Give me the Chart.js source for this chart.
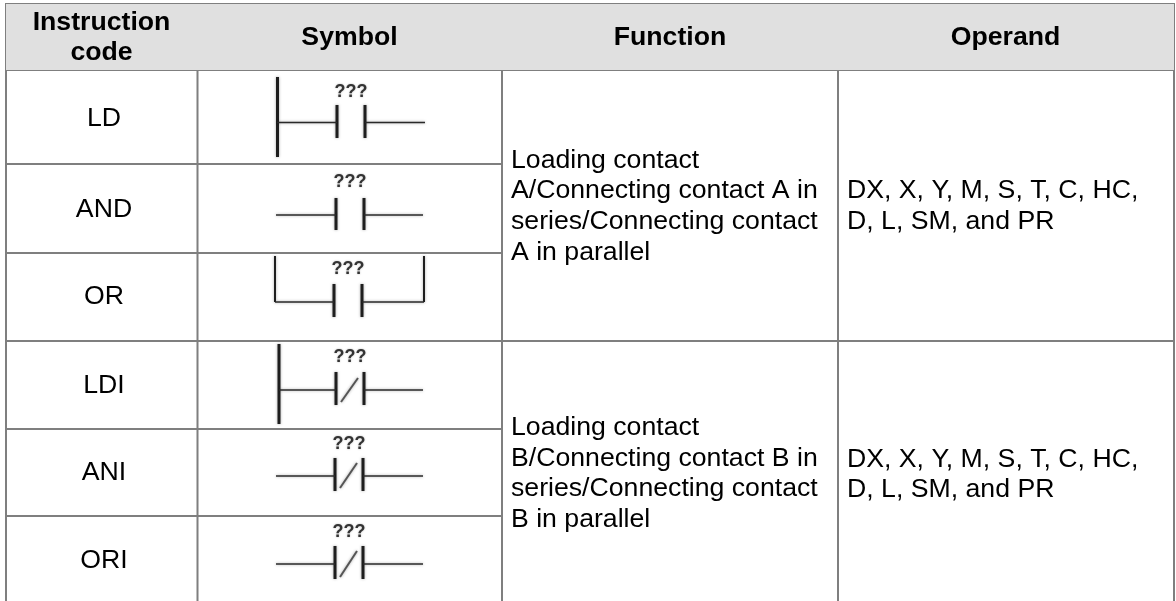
<!DOCTYPE html>
<html>
<head>
<meta charset="utf-8">
<style>html,body{margin:0;padding:0;background:#fff}canvas{display:block}</style>
<script src="https://cdn.jsdelivr.net/npm/chart.js@4"></script>
</head>
<body>
<canvas id="c" width="1176" height="601"></canvas>
<script>
// Table content
const headers = [["Instruction", "code"], ["Symbol"], ["Function"], ["Operand"]];
const instructionCodes = ["LD", "AND", "OR", "LDI", "ANI", "ORI"];
const functionTexts = [
  ["Loading contact", "A/Connecting contact A in", "series/Connecting contact", "A in parallel"],
  ["Loading contact", "B/Connecting contact B in", "series/Connecting contact", "B in parallel"]
];
const operandTexts = ["DX, X, Y, M, S, T, C, HC,", "D, L, SM, and PR"];
const contactLabel = "???";

// Table structure, in scale units
const columnEdges = [6, 197.5, 502, 838, 1174];
const headerBand = [4, 70];
const fullRules = [4, 70, 341];
const partialRules = [164, 253, 429, 516];
const tableBottom = 601;

// Text anchors
const headerCenters = [101.5, 349.5, 670, 1005.5];
const headerBaselines = [[30, 60], [45], [45], [45]];
const codeCenter = 104;
const codeBaselines = [126, 217, 304, 393, 480, 568];
const functionLeft = 511;
const functionBaselines = [[168, 198, 229, 260], [435, 466, 496, 527]];
const operandLeft = 847;
const operandBaselines = [[198, 229], [467, 497]];

// Ladder symbols: rung y, wire ends, contact bars, contact y-range, label centre
const rungY = [122.5, 215, 302, 390, 476, 564];
const wireLeft = [277, 276, 275, 279, 276, 276];
const wireRight = [425, 423, 424, 423, 423, 423];
const contactLeftX = [337, 336, 334, 336, 335, 335];
const contactRightX = [365, 364, 362, 364, 363, 363];
const contactTop = [105, 198, 284, 372, 458, 546];
const contactBottom = [138, 230, 317, 405, 491, 579];
const labelX = [351, 350, 348, 350, 349, 349];
const labelY = [96.5, 187, 274, 362, 449, 537];
const powerRailLeft = [[277.5, 77, 157], null, [275, 256, 302], [279, 344, 424], null, null];
const powerRailRight = [null, null, [424, 256, 302], null, null, null];
const slashes = [null, null, null, [341, 402, 358, 378], [340, 488, 357, 463], [340, 577, 357, 551]];

const GRID = "#7f7f7f", INK = "#1e1e1e";
const seg = (x1, y1, x2, y2, color, width, soft) => ({
  data: [{x: x1, y: y1}, {x: x2, y: y2}],
  borderColor: color, borderWidth: width, pointRadius: 0, showLine: true, fill: false, soft: !!soft
});

const datasets = [];
// header fill
datasets.push({
  data: [{x: columnEdges[0], y: headerBand[0]}, {x: columnEdges[4], y: headerBand[0]}],
  borderWidth: 0, pointRadius: 0, showLine: true,
  backgroundColor: "#e0e0e0", fill: {value: headerBand[1]}
});
// rules
fullRules.forEach(y => datasets.push(seg(columnEdges[0] - 1, y, columnEdges[4] + 1, y, GRID, 2)));
partialRules.forEach(y => datasets.push(seg(columnEdges[0], y, columnEdges[2], y, GRID, 2)));
columnEdges.forEach(x => datasets.push(seg(x, headerBand[0], x, tableBottom, GRID, 2)));
// symbols
rungY.forEach((y, i) => {
  datasets.push(seg(wireLeft[i], y, contactLeftX[i], y, "#2a2a2a", 1.7, true));
  datasets.push(seg(contactRightX[i], y, wireRight[i], y, "#2a2a2a", 1.7, true));
  datasets.push(seg(contactLeftX[i], contactTop[i], contactLeftX[i], contactBottom[i], INK, 3, true));
  datasets.push(seg(contactRightX[i], contactTop[i], contactRightX[i], contactBottom[i], INK, 3, true));
  if (powerRailLeft[i]) {
    const r = powerRailLeft[i];
    datasets.push(seg(r[0], r[1], r[0], r[2], INK, i === 2 ? 2 : 3, true));
  }
  if (powerRailRight[i]) {
    const r = powerRailRight[i];
    datasets.push(seg(r[0], r[1], r[0], r[2], INK, 2, true));
  }
  if (slashes[i]) {
    const s = slashes[i];
    datasets.push(seg(s[0], s[1], s[2], s[3], "#555555", 2, true));
  }
});

const softLines = {
  id: "softLines",
  beforeDatasetDraw(chart, args) {
    if (chart.data.datasets[args.index].soft) {
      const c = chart.ctx;
      c.save();
      c.shadowColor = "rgba(0,0,0,0.35)";
      c.shadowBlur = 3;
    }
  },
  afterDatasetDraw(chart, args) {
    if (chart.data.datasets[args.index].soft) chart.ctx.restore();
  }
};

const tableText = {
  id: "tableText",
  afterDatasetsDraw(chart) {
    const {ctx, scales: {x, y}} = chart;
    const put = (t, px, py, font, align, color) => {
      ctx.font = font; ctx.textAlign = align; ctx.fillStyle = color; ctx.textBaseline = "alphabetic";
      ctx.fillText(t, x.getPixelForValue(px), y.getPixelForValue(py));
    };
    ctx.save();
    const BOLD = 'bold 26.67px "Liberation Sans"', REG = '26.67px "Liberation Sans"';
    headers.forEach((lines, c) => lines.forEach((t, l) =>
      put(t, headerCenters[c], headerBaselines[c][l], BOLD, "center", "#000")));
    instructionCodes.forEach((t, i) => put(t, codeCenter, codeBaselines[i], REG, "center", "#000"));
    functionTexts.forEach((lines, g) => lines.forEach((t, l) =>
      put(t, functionLeft, functionBaselines[g][l], REG, "left", "#000")));
    operandBaselines.forEach(b => operandTexts.forEach((t, l) =>
      put(t, operandLeft, b[l], REG, "left", "#000")));
    ctx.shadowColor = "rgba(0,0,0,0.3)";
    ctx.shadowBlur = 2;
    labelX.forEach((lx, i) =>
      put(contactLabel, lx, labelY[i], 'bold 18px "Liberation Sans"', "center", "#333"));
    ctx.restore();
  }
};

new Chart(document.getElementById("c"), {
  type: "scatter",
  data: {datasets},
  options: {
    responsive: false, animation: false,
    layout: {padding: 0},
    plugins: {legend: {display: false}, tooltip: {enabled: false}},
    scales: {
      x: {type: "linear", min: 0, max: 1176, display: false},
      y: {type: "linear", min: 0, max: 601, reverse: true, display: false}
    }
  },
  plugins: [softLines, tableText]
});
</script>
</body>
</html>
